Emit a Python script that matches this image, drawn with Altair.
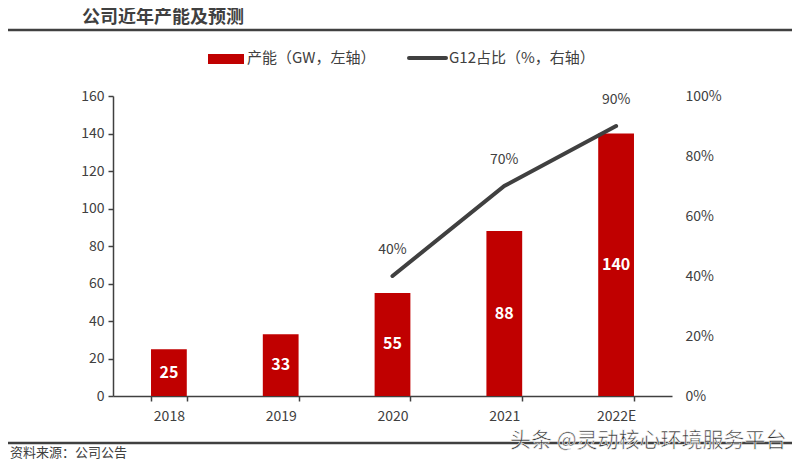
import altair as alt
import pandas as pd

years = ["2018", "2019", "2020", "2021", "2022E"]
capacity = [25, 33, 55, 88, 140]
g12_years = ["2020", "2021", "2022E"]
g12_share = [0.40, 0.70, 0.90]

FONT = "Noto Sans CJK SC"
DARK = "#404040"
RED = "#C00000"

bars_df = pd.DataFrame({"year": years, "cap": capacity})
line_df = pd.DataFrame({"year": g12_years, "share": g12_share})

xenc = alt.X("year:N", sort=years, title=None,
             scale=alt.Scale(paddingInner=0.68, paddingOuter=0.34),
             axis=alt.Axis(labelAngle=0, labelFontSize=14, labelColor=DARK, labelFont=FONT,
                           domainColor=DARK, domainWidth=1.5, tickColor=DARK, tickWidth=1.5,
                           tickSize=5, tickBand="extent", labelPadding=8))

left_axis = alt.Axis(values=list(range(0, 161, 20)), grid=False, labelFontSize=14,
                     labelColor=DARK, labelFont=FONT, domainColor=DARK, domainWidth=1.5,
                     tickColor=DARK, tickWidth=1.5, tickSize=5, labelPadding=4,
                     labelOverlap=False)
left_scale = alt.Scale(domain=[0, 160])

base_b = alt.Chart(bars_df)
bars = base_b.mark_bar(color=RED).encode(
    x=xenc, y=alt.Y("cap:Q", title=None, scale=left_scale, axis=left_axis))
bar_text = base_b.transform_calculate(mid="datum.cap / 2").mark_text(
    color="white", fontSize=16, fontWeight="bold", font=FONT, baseline="middle"
).encode(x=alt.X("year:N", sort=years),
         y=alt.Y("mid:Q", title=None, scale=left_scale, axis=left_axis),
         text=alt.Text("cap:Q"))

left = alt.layer(bars, bar_text)

right_axis = alt.Axis(orient="right", values=[0, 0.2, 0.4, 0.6, 0.8, 1.0], format=".0%",
                      grid=False, domain=False, ticks=False, labelFontSize=14,
                      labelColor=DARK, labelFont=FONT, labelPadding=13,
                      labelOverlap=False)
right_scale = alt.Scale(domain=[0, 1])
base_l = alt.Chart(line_df)
line = base_l.mark_line(color=DARK, strokeWidth=4, strokeCap="round").encode(
    x=alt.X("year:N", sort=years),
    y=alt.Y("share:Q", title=None, scale=right_scale, axis=right_axis))
line_text = base_l.mark_text(color=DARK, fontSize=14, font=FONT, dy=-26).encode(
    x=alt.X("year:N", sort=years),
    y=alt.Y("share:Q", title=None, scale=right_scale, axis=right_axis),
    text=alt.Text("share:Q", format=".0%"))
right = alt.layer(line, line_text)

one = pd.DataFrame({"a": [0]})
def deco():
    return alt.Chart(one)

title = deco().mark_text(text="公司近年产能及预测", font=FONT, fontSize=18, fontWeight="bold",
                         color=DARK, align="left", baseline="middle").encode(
    x=alt.value(-31), y=alt.value(-78))
top_rule = deco().mark_rule(color=DARK, strokeWidth=2.5).encode(
    x=alt.value(-108), x2=alt.value(687), y=alt.value(-66))
bot_rule = deco().mark_rule(color=DARK, strokeWidth=2.5).encode(
    x=alt.value(-108), x2=alt.value(687), y=alt.value(347))
source = deco().mark_text(text="资料来源：公司公告", font=FONT, fontSize=13, color=DARK,
                          align="left", baseline="middle").encode(
    x=alt.value(-103), y=alt.value(357))
watermark = deco().mark_text(text="头条 @灵动核心环境服务平台", font=FONT, fontSize=21, color="#333333",
                             align="left", baseline="middle", stroke="white", strokeWidth=0.6).encode(
    x=alt.value(397), y=alt.value(345))
leg_rect = deco().mark_rect(color=RED).encode(
    x=alt.value(95), x2=alt.value(131), y=alt.value(-42), y2=alt.value(-32))
leg_text1 = deco().mark_text(text="产能（GW，左轴）", font=FONT, fontSize=15, color=DARK,
                             align="left", baseline="middle").encode(
    x=alt.value(134), y=alt.value(-38))
leg_line = deco().mark_rule(color=DARK, strokeWidth=4, strokeCap="round").encode(
    x=alt.value(296), x2=alt.value(333), y=alt.value(-38))
leg_text2 = deco().mark_text(text="G12占比（%，右轴）", font=FONT, fontSize=15, color=DARK,
                             align="left", baseline="middle").encode(
    x=alt.value(336), y=alt.value(-38))

chart = alt.layer(
    left, right, title, top_rule, bot_rule, source, leg_rect, leg_text1, leg_line, leg_text2, watermark
).resolve_scale(y="independent").properties(
    width=559, height=300,
    background="white",
    autosize=alt.AutoSizeParams(type="none"),
    padding={"left": 105, "top": 88, "right": 120, "bottom": 66},
).configure_view(strokeWidth=0, stroke="transparent").configure_axis(grid=False)

chart.save("out.html", embed_options={"renderer": "svg", "actions": False})
